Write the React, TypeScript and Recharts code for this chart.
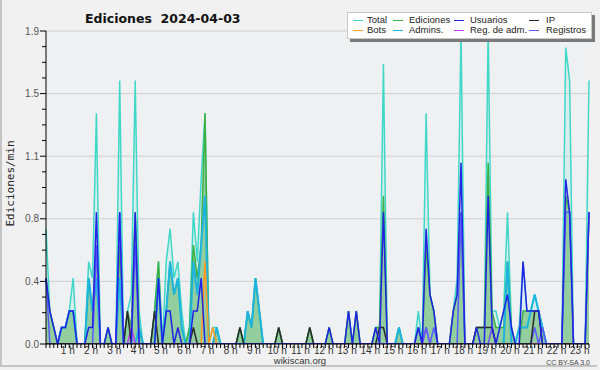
import { ComposedChart, Area, Line, XAxis, YAxis, CartesianGrid } from 'recharts';

// ─── Data: edits per 10 minutes (tenths of edits/min), 00:00 → 23:20 ───

const TOTAL = [
    7, 2, 1, 0, 1, 1, 2, 4, 0, 0, 0, 5,
    4, 14, 0, 0, 1, 0, 0, 16, 0, 2, 3, 16,
    2, 0, 0, 0, 2, 5, 0, 5, 7, 4, 5, 2,
    0, 1, 8, 5, 10, 14, 0, 1, 1, 0, 0, 0,
    0, 0, 1, 0, 2, 1, 4, 2, 0, 0, 0, 0,
    1, 0, 0, 0, 0, 0, 0, 0, 1, 0, 0, 0,
    0, 1, 0, 0, 0, 0, 2, 0, 2, 0, 0, 0,
    0, 1, 1, 17, 0, 0, 0, 1, 0, 0, 0, 0,
    2, 0, 14, 3, 2, 0, 0, 0, 0, 2, 4, 19,
    0, 0, 0, 1, 1, 1, 19, 2, 2, 1, 2, 8,
    1, 0, 1, 5, 2, 2, 3, 2, 1, 0, 0, 0,
    0, 0, 18, 16, 0, 0, 0, 0, 16,
];

const EDICIONES = [
    4, 2, 1, 0, 1, 1, 2, 2, 0, 0, 0, 4,
    2, 6, 0, 0, 1, 0, 0, 6, 0, 2, 1, 8,
    1, 0, 0, 0, 2, 5, 0, 2, 5, 3, 4, 1,
    0, 1, 6, 4, 6, 14, 0, 0, 1, 0, 0, 0,
    0, 0, 1, 0, 2, 1, 4, 2, 0, 0, 0, 0,
    1, 0, 0, 0, 0, 0, 0, 0, 1, 0, 0, 0,
    0, 1, 0, 0, 0, 0, 2, 0, 2, 0, 0, 0,
    0, 1, 1, 9, 0, 0, 0, 1, 0, 0, 0, 0,
    1, 0, 6, 3, 2, 0, 0, 0, 0, 2, 3, 8,
    0, 0, 0, 1, 1, 1, 11, 2, 1, 1, 1, 5,
    1, 0, 0, 2, 2, 2, 2, 2, 1, 0, 0, 0,
    0, 0, 9, 8, 0, 0, 0, 0, 8,
];

const USUARIOS = [
    4, 2, 1, 0, 1, 1, 2, 2, 0, 0, 0, 1,
    1, 8, 0, 0, 1, 0, 0, 8, 0, 0, 0, 8,
    0, 0, 0, 0, 0, 4, 0, 2, 2, 0, 1, 0,
    0, 0, 2, 2, 4, 0, 0, 0, 0, 0, 0, 0,
    0, 0, 0, 0, 0, 0, 0, 0, 0, 0, 0, 0,
    0, 0, 0, 0, 0, 0, 0, 0, 0, 0, 0, 0,
    0, 1, 0, 0, 0, 0, 2, 0, 2, 0, 0, 0,
    0, 1, 0, 8, 0, 0, 0, 0, 0, 0, 0, 0,
    1, 0, 7, 3, 2, 0, 0, 0, 0, 2, 3, 11,
    0, 0, 0, 1, 0, 0, 9, 1, 0, 1, 2, 3,
    1, 0, 0, 5, 2, 2, 2, 2, 0, 0, 0, 0,
    0, 0, 10, 8, 0, 0, 0, 0, 8,
];

const IP = [
    0, 0, 0, 0, 0, 0, 0, 0, 0, 0, 0, 0,
    0, 0, 0, 0, 0, 0, 0, 0, 0, 2, 0, 0,
    0, 0, 0, 0, 2, 0, 0, 0, 0, 0, 0, 0,
    0, 0, 1, 0, 0, 0, 0, 0, 0, 0, 0, 0,
    0, 0, 1, 0, 0, 0, 0, 0, 0, 0, 0, 0,
    1, 0, 0, 0, 0, 0, 0, 0, 1, 0, 0, 0,
    0, 0, 0, 0, 0, 0, 0, 0, 0, 0, 0, 0,
    0, 0, 1, 1, 0, 0, 0, 0, 0, 0, 0, 0,
    0, 0, 0, 0, 0, 0, 0, 0, 0, 0, 0, 0,
    0, 0, 0, 1, 1, 1, 1, 1, 0, 0, 0, 0,
    0, 0, 0, 0, 0, 0, 2, 2, 0, 0, 0, 0,
    0, 0, 0, 0, 0, 0, 0, 0, 0,
];

const BOTS = [
    0, 0, 0, 0, 0, 0, 0, 0, 0, 0, 0, 0,
    0, 0, 0, 0, 0, 0, 0, 0, 0, 0, 0, 0,
    0, 0, 0, 0, 0, 0, 0, 0, 0, 0, 0, 0,
    0, 0, 0, 0, 0, 5, 0, 1, 0, 0, 0, 0,
    0, 0, 0, 0, 0, 0, 0, 0, 0, 0, 0, 0,
    0, 0, 0, 0, 0, 0, 0, 0, 0, 0, 0, 0,
    0, 0, 0, 0, 0, 0, 0, 0, 0, 0, 0, 0,
    0, 0, 0, 0, 0, 0, 0, 0, 0, 0, 0, 0,
    0, 0, 0, 0, 0, 0, 0, 0, 0, 0, 0, 0,
    0, 0, 0, 0, 0, 0, 0, 1, 0, 0, 0, 0,
    0, 0, 0, 0, 0, 0, 0, 0, 0, 0, 0, 0,
    0, 0, 0, 0, 0, 0, 0, 0, 0,
];

const ADMINS = [
    0, 0, 0, 0, 1, 1, 2, 2, 0, 0, 0, 4,
    2, 4, 0, 0, 0, 0, 0, 4, 0, 0, 0, 0,
    1, 0, 0, 0, 0, 4, 0, 2, 5, 3, 4, 1,
    0, 0, 5, 3, 6, 9, 0, 0, 1, 0, 0, 0,
    0, 0, 0, 0, 2, 1, 4, 2, 0, 0, 0, 0,
    0, 0, 0, 0, 0, 0, 0, 0, 0, 0, 0, 0,
    0, 0, 0, 0, 0, 0, 0, 0, 0, 0, 0, 0,
    0, 0, 0, 0, 0, 0, 0, 1, 0, 0, 0, 0,
    0, 0, 0, 0, 0, 0, 0, 0, 0, 0, 0, 0,
    0, 0, 0, 0, 0, 0, 0, 0, 0, 0, 0, 5,
    0, 0, 1, 1, 1, 2, 3, 2, 1, 0, 0, 0,
    0, 0, 0, 0, 0, 0, 0, 0, 0,
];

const REG_ADM = [
    0, 0, 0, 0, 0, 0, 0, 0, 0, 0, 0, 0,
    0, 0, 0, 0, 0, 0, 0, 0, 0, 0, 1, 0,
    0, 0, 0, 0, 0, 0, 0, 0, 0, 0, 0, 0,
    0, 0, 0, 0, 0, 0, 0, 0, 0, 0, 0, 0,
    0, 0, 0, 0, 0, 0, 0, 0, 0, 0, 0, 0,
    0, 0, 0, 0, 0, 0, 0, 0, 0, 0, 0, 0,
    0, 0, 0, 0, 0, 0, 0, 0, 0, 0, 0, 0,
    0, 0, 0, 0, 0, 0, 0, 0, 0, 0, 0, 0,
    0, 0, 1, 0, 0, 0, 0, 0, 0, 0, 0, 0,
    0, 0, 0, 0, 0, 0, 0, 0, 0, 0, 0, 0,
    0, 0, 0, 0, 0, 0, 0, 0, 0, 0, 0, 0,
    0, 0, 0, 0, 0, 0, 0, 0, 0,
];

const REGISTROS = [
    4, 0, 0, 0, 0, 0, 0, 0, 0, 0, 0, 0,
    0, 6, 0, 0, 0, 0, 0, 8, 0, 0, 0, 6,
    0, 0, 0, 0, 0, 0, 0, 0, 0, 0, 0, 0,
    0, 0, 0, 0, 0, 0, 0, 0, 0, 0, 0, 0,
    0, 0, 0, 0, 0, 0, 0, 0, 0, 0, 0, 0,
    0, 0, 0, 0, 0, 0, 0, 0, 0, 0, 0, 0,
    0, 0, 0, 0, 0, 0, 0, 0, 0, 0, 0, 0,
    0, 0, 0, 0, 0, 0, 0, 0, 0, 0, 0, 0,
    1, 0, 1, 0, 1, 0, 0, 0, 0, 0, 0, 8,
    0, 0, 0, 0, 0, 0, 0, 1, 0, 0, 0, 0,
    0, 0, 0, 0, 0, 0, 1, 0, 1, 0, 0, 0,
    0, 0, 8, 8, 0, 0, 0, 0, 8,
];

const Y_MAX = 1.9;
const Y_STEP = 0.095; // minor tick, every 4th is labelled
const Y_TICKS = Array.from({ length: 21 }, (_, k) => +(k * Y_STEP).toFixed(3));
const Y_MAJOR = Y_TICKS.filter((_, k) => k % 4 === 0);
const X_TICKS = Array.from({ length: TOTAL.length }, (_, i) => i);

const SERIES = [
    { key: 'total', name: 'Total', color: '#3fd8c8' },
    { key: 'ediciones', name: 'Ediciones', color: '#3cb043' },
    { key: 'usuarios', name: 'Usuarios', color: '#2222e6' },
    { key: 'ip', name: 'IP', color: '#2a2a2a' },
    { key: 'bots', name: 'Bots', color: '#ff9a1f' },
    { key: 'admins', name: 'Admins.', color: '#1eb4e0' },
    { key: 'regAdm', name: 'Reg. de adm.', color: '#c03cf0' },
    { key: 'registros', name: 'Registros', color: '#5a5aff' },
];
const COLOR: Record<string, string> = Object.fromEntries(SERIES.map((s) => [s.key, s.color]));

const data = TOTAL.map((t, i) => ({
    i,
    total: t / 10,
    ediciones: EDICIONES[i] / 10,
    usuarios: USUARIOS[i] / 10,
    ip: IP[i] / 10,
    bots: BOTS[i] / 10,
    admins: ADMINS[i] / 10,
    regAdm: REG_ADM[i] / 10,
    registros: REGISTROS[i] / 10,
}));

// ─── Axis ticks ───────────────────────────────────────────────

// eslint-disable-next-line @typescript-eslint/no-explicit-any
const YTick = ({ x, y, payload }: any) => {
    const k = Math.round(payload.value / Y_STEP);
    const major = k % 4 === 0;
    return (
        <g>
            <line x1={x - (major ? 6 : 4)} x2={x} y1={y} y2={y} stroke="#000" />
            {major && (
                <text x={x - 7} y={y} dy={3.5} textAnchor="end" fontSize={10} fill="#555">
                    {payload.value.toFixed(1)}
                </text>
            )}
        </g>
    );
};

// eslint-disable-next-line @typescript-eslint/no-explicit-any
const XTick = ({ x, y, payload }: any) => {
    const i = payload.value;
    const label = i > 0 && i % 6 === 0 ? `${i / 6} h` : null;
    return (
        <g>
            <line x1={x} x2={x} y1={y} y2={y + 4} stroke="#000" />
            {label && (
                <text x={x - 1.5} y={y + 10} textAnchor="middle" fontSize={10} fill="#333">
                    {label}
                </text>
            )}
        </g>
    );
};

// ─── Legend ───────────────────────────────────────────────────

const LEG_COLS = [5, 45, 106, 181];
const LEG_TEXT = [19, 61, 122, 198];

function LegendBox() {
    return (
        <div style={{
            position: 'absolute', left: 347, top: 12, width: 243, height: 25,
            background: '#fff', border: '1px solid #c8c8c8', boxShadow: '3px 3px 0 #7a7a7a',
        }}>
            {SERIES.map((s, n) => {
                const col = n % 4;
                const top = n < 4 ? 1 : 11;
                return (
                    <div key={s.key}>
                        <div style={{ position: 'absolute', left: LEG_COLS[col], top: top + 6, width: 10, height: 1, background: s.color }} />
                        <div style={{ position: 'absolute', left: LEG_TEXT[col], top, fontSize: 9.5, lineHeight: '12px', color: '#222', whiteSpace: 'nowrap' }}>
                            {s.name}
                        </div>
                    </div>
                );
            })}
        </div>
    );
}

export default function App() {
    return (
        <div style={{
            position: 'absolute', left: 0, top: 0, width: 600, height: 370, background: '#f1f1f1',
            fontFamily: '"Liberation Sans", Arial, sans-serif', overflow: 'hidden',
        }}>
            <div style={{ position: 'absolute', left: 0, top: 0, width: 597, height: 367, borderLeft: '2px solid #c4c4c4', borderBottom: '2px solid #c4c4c4', boxSizing: 'border-box' }} />
            <ComposedChart width={600} height={370} data={data} margin={{ top: 31, right: 11, bottom: 6, left: 16 }}>
                <CartesianGrid vertical={false} horizontalValues={Y_MAJOR} stroke="#cfcfcf" fill="#eef0f2" />
                <XAxis
                    dataKey="i" type="number" domain={[0, TOTAL.length - 1]} ticks={X_TICKS} interval={0}
                    height={20} tickSize={0} tickMargin={0} tickLine={false} tick={XTick}
                    axisLine={{ stroke: '#000' }}
                />
                <YAxis
                    type="number" domain={[0, Y_MAX]} ticks={Y_TICKS} interval={0} width={30}
                    tickSize={0} tickMargin={0} tickLine={false} tick={YTick}
                    axisLine={{ stroke: '#000' }} allowDataOverflow
                />
                <Area type="linear" dataKey="total" stroke={COLOR.total} strokeWidth={1.5} fill="#40e0d0" fillOpacity={0.12} dot={false} activeDot={false} isAnimationActive={false} />
                <Area type="linear" dataKey="ediciones" stroke={COLOR.ediciones} strokeWidth={1.5} fill="#4caf50" fillOpacity={0.5} dot={false} activeDot={false} isAnimationActive={false} />
                <Line type="linear" dataKey="admins" stroke={COLOR.admins} strokeWidth={2} dot={false} activeDot={false} isAnimationActive={false} />
                <Line type="linear" dataKey="bots" stroke={COLOR.bots} strokeWidth={1.5} dot={false} activeDot={false} isAnimationActive={false} />
                <Line type="linear" dataKey="regAdm" stroke={COLOR.regAdm} strokeWidth={1.5} dot={false} activeDot={false} isAnimationActive={false} />
                <Line type="linear" dataKey="registros" stroke={COLOR.registros} strokeWidth={1.5} dot={false} activeDot={false} isAnimationActive={false} />
                <Line type="linear" dataKey="ip" stroke={COLOR.ip} strokeWidth={1.5} dot={false} activeDot={false} isAnimationActive={false} />
                <Line type="linear" dataKey="usuarios" stroke={COLOR.usuarios} strokeWidth={1.5} dot={false} activeDot={false} isAnimationActive={false} />
            </ComposedChart>
            <svg width={600} height={370} style={{ position: 'absolute', left: 0, top: 0, pointerEvents: 'none' }}>
                <text x={85} y={23} fontFamily="DejaVu Sans" fontWeight="bold" fontSize={12.5} fill="#111" style={{ whiteSpace: 'pre' }}>
                    {'Ediciones  2024-04-03'}
                </text>
                <text transform="translate(13.5,183.5) rotate(-90)" textAnchor="middle" fontFamily="DejaVu Sans Mono" fontSize={11} fill="#222">
                    Ediciones/min
                </text>
                <text x={300} y={364} textAnchor="middle" fontSize={9.5} fill="#333">wikiscan.org</text>
                <text x={590} y={365} textAnchor="end" fontSize={7} fill="#444">CC BY-SA 3.0</text>
            </svg>
            <LegendBox />
        </div>
    );
}
